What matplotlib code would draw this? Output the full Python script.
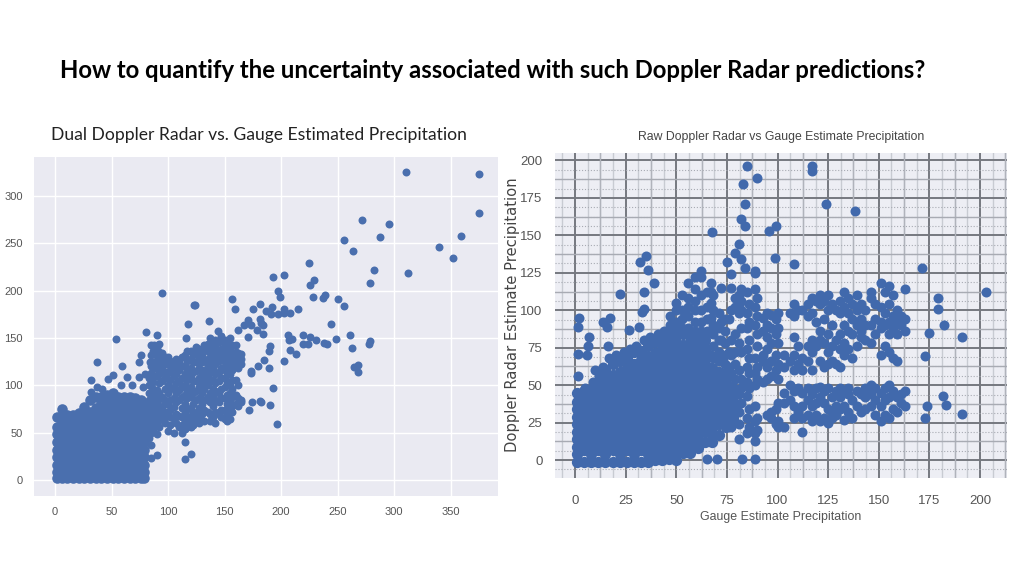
import matplotlib
matplotlib.use("Agg")
import matplotlib.pyplot as plt
from matplotlib.ticker import MultipleLocator

W, H = 1024, 576

title = "How to quantify the uncertainty associated with such Doppler Radar predictions?"
left_title = "Dual Doppler Radar vs. Gauge Estimated Precipitation"
right_title = "Raw Doppler Radar vs Gauge Estimate Precipitation"
right_xlabel = "Gauge Estimate Precipitation"
right_ylabel = "Doppler Radar Estimate Precipitation"

left_xticks = [0, 50, 100, 150, 200, 250, 300, 350]
left_yticks = [0, 50, 100, 150, 200, 250, 300]
right_xticks = [0, 25, 50, 75, 100, 125, 150, 175, 200]
right_yticks = [0, 25, 50, 75, 100, 125, 150, 175, 200]

# left panel, solid mass near the origin: x -> y values
left_core = {
    2: [2, 8, 16, 24, 32, 40, 48, 56, 66],
    6: [2, 4, 12, 20, 28, 36, 44, 52, 60, 68, 75],
    11: [2, 8, 16, 24, 32, 40, 48, 56, 64, 69],
    16: [2, 4, 12, 20, 28, 36, 44, 52, 60, 69],
    21: [2, 8, 16, 24, 32, 40, 48, 56, 64, 71],
    26: [2, 4, 12, 20, 28, 36, 44, 52, 60, 68, 77],
    31: [2, 8, 16, 24, 32, 40, 48, 56, 64, 72, 84],
    36: [2, 4, 12, 20, 28, 36, 44, 52, 60, 68, 76, 88],
    41: [2, 8, 16, 24, 32, 40, 48, 56, 64, 72, 80, 88],
    46: [2, 4, 12, 20, 28, 36, 44, 52, 60, 68, 76, 84, 90],
    51: [2, 8, 16, 24, 32, 40, 48, 56, 64, 72, 80, 88, 92],
    56: [2, 4, 12, 20, 28, 36, 44, 52, 60, 68, 76, 84, 88],
    61: [2, 8, 16, 24, 32, 40, 48, 56, 64, 72, 80, 88],
    66: [2, 4, 12, 20, 28, 36, 44, 52, 60, 68, 76, 84, 88],
    71: [2, 8, 16, 24, 32, 40, 48, 56, 64, 72, 80, 86],
    76: [2, 4, 12, 20, 28, 36, 44, 52, 60, 68, 76, 84],
    79: [2, 8, 16, 24, 32, 40, 48, 56, 64, 72, 80],
}

# left panel, loose cloud between x=85 and x=165
left_cloud = {
    85: [23, 37, 50, 57, 64, 71, 78, 85, 92, 99, 106, 113, 120, 132, 142],
    90: [26, 49, 60, 67, 74, 81, 88, 95, 110, 117, 124, 131, 139],
    95: [68, 75, 88, 104, 118, 126, 134],
    100: [52, 70, 80, 92, 100, 113, 122, 130],
    105: [50, 64, 77, 86, 98, 110, 122],
    110: [56, 68, 84, 95, 104, 116, 125],
    115: [22, 40, 54, 62, 72, 80, 90, 100, 112, 120, 132],
    120: [27, 56, 66, 75, 88, 98, 110, 118, 128, 136],
    125: [62, 70, 84, 94, 104, 115, 125, 135, 140],
    130: [70, 80, 92, 102, 112, 124, 132],
    135: [72, 84, 88, 100, 110, 120, 128, 138, 143],
    140: [66, 78, 88, 96, 106, 118, 128, 136, 145],
    145: [70, 82, 92, 104, 114, 126, 134, 146],
    150: [64, 74, 86, 98, 108, 116, 124, 132, 142, 148],
    155: [64, 76, 84, 92, 100, 112, 122, 130, 138, 150],
    160: [80, 90, 105, 122, 128, 135, 142],
    165: [82, 84, 122, 128, 133],
    83: [44, 52, 60, 68, 76, 84, 92, 100, 108],
    87: [54, 61, 68, 75, 82, 89, 96, 103, 110, 118, 125, 136],
    92: [56, 63, 71, 78, 85, 92, 102, 112, 120, 128, 135, 143],
    97: [60, 66, 72, 80, 84, 96, 108, 114, 122, 130],
    102: [58, 66, 74, 84, 96, 106, 116, 126],
    107: [60, 70, 82, 92, 102, 112, 118, 128],
    112: [50, 58, 66, 76, 88, 98, 108, 120, 130],
    117: [56, 60, 68, 76, 86, 94, 106, 116, 126, 136],
    122: [58, 62, 72, 80, 92, 104, 114, 124, 132],
    127: [60, 66, 76, 86, 98, 108, 118, 130, 138],
    132: [62, 74, 84, 96, 106, 116, 126, 136, 142],
    137: [62, 70, 82, 92, 104, 114, 124, 134, 142, 150],
    142: [60, 72, 84, 94, 102, 112, 122, 132, 140, 148],
    147: [66, 74, 86, 96, 108, 118, 128, 138, 148, 152],
    152: [62, 70, 80, 90, 102, 112, 120, 128, 136, 146],
    157: [72, 78, 88, 96, 106, 116, 126, 134, 142],
    162: [78, 86, 100, 118, 126, 134],
}

# left panel, separate points
left_x = [311, 375, 375, 272, 295.5, 256, 288, 359, 340, 264, 352, 225, 312, 282, 279,
          193, 203, 229, 226, 197, 199, 228.5, 237, 239, 250, 256, 94.5, 157, 159, 123,
          124, 175, 181, 192, 187, 191, 197, 203, 203, 208, 215, 244, 136, 117.5, 171,
          181, 182, 184, 167, 173, 162, 179, 184, 171, 144, 80.5, 90, 54, 116, 206,
          207, 210, 219, 226, 231, 238, 241, 249, 261, 219, 223.5, 279, 278, 263, 208,
          213, 202.5, 190, 189.5, 185, 180, 189, 173, 173, 265, 268, 268, 193, 174, 172,
          181, 182, 190, 196, 37, 59, 32, 37.5, 31.5, 47, 51, 64, 74,
          42, 58, 68, 78, 80, 74, 76, 84, 88]
left_y = [325, 323, 282, 274, 270, 253, 257, 258, 246, 242, 234.5, 229, 218, 221.5, 208,
          214, 216, 211, 206, 199, 193, 193, 192, 195, 191.5, 184, 197, 191.5, 180, 185,
          185, 181, 186, 183, 178, 175, 175, 180, 176, 176, 181, 165, 168, 165, 169,
          170, 166, 164, 164, 164, 158, 158, 154, 151, 157, 156, 153, 148.5, 149.5, 153,
          148, 149, 153, 151, 148, 145, 143, 148.5, 153, 144, 144, 147, 143, 139, 137,
          133, 126, 141, 136, 127, 120, 118, 115, 113, 119, 121.5, 114, 97, 82, 74,
          83, 82, 79, 59.5, 125, 120, 105, 98, 93, 107, 111, 109, 109,
          96, 100, 100, 98, 112, 125, 132, 125, 142]

# right panel, solid mass near the origin: x -> y values
right_core = {
    1: [-1, 4, 9, 14, 19, 24, 29, 34, 39, 45],
    4.5: [-1, 6.5, 11.5, 16.5, 21.5, 26.5, 31.5, 36.5, 41.5, 46],
    8: [-1, 4, 9, 14, 19, 24, 29, 34, 39, 44, 47],
    11.5: [-1, 6.5, 11.5, 16.5, 21.5, 26.5, 31.5, 36.5, 41.5, 46.5, 52],
    15: [-1, 4, 9, 14, 19, 24, 29, 34, 39, 44, 49, 54, 60],
    18.5: [-1, 6.5, 11.5, 16.5, 21.5, 26.5, 31.5, 36.5, 41.5, 46.5, 51.5, 56.5, 64],
    22: [-1, 4, 9, 14, 19, 24, 29, 34, 39, 44, 49, 54, 59, 66],
    25.5: [-1, 6.5, 11.5, 16.5, 21.5, 26.5, 31.5, 36.5, 41.5, 46.5, 51.5, 56.5, 61.5, 68],
    29: [-1, 4, 9, 14, 19, 24, 29, 34, 39, 44, 49, 54, 59, 64, 72],
    32.5: [-1, 6.5, 11.5, 16.5, 21.5, 26.5, 31.5, 36.5, 41.5, 46.5, 51.5, 56.5, 61.5, 66.5, 73],
    36: [-1, 4, 9, 14, 19, 24, 29, 34, 39, 44, 49, 54, 59, 64, 69, 76],
    39.5: [0, 6.5, 11.5, 16.5, 21.5, 26.5, 31.5, 36.5, 41.5, 46.5, 51.5, 56.5, 61.5, 66.5, 71.5, 79],
    43: [0, 4, 9, 14, 19, 24, 29, 34, 39, 44, 49, 54, 59, 64, 69, 74, 80],
    46.5: [1, 6.5, 11.5, 16.5, 21.5, 26.5, 31.5, 36.5, 41.5, 46.5, 51.5, 56.5, 61.5, 66.5, 71.5, 76.5, 82],
    50: [0, 4, 9, 14, 19, 24, 29, 34, 39, 44, 49, 54, 59, 64, 69, 74, 79, 84],
    53.5: [5, 11.5, 16.5, 21.5, 26.5, 31.5, 36.5, 41.5, 46.5, 51.5, 56.5, 61.5, 66.5, 71.5, 76.5, 84],
    57: [5, 9, 14, 19, 24, 29, 34, 39, 44, 49, 54, 59, 64, 69, 74, 79, 85],
    60.5: [8, 11.5, 16.5, 21.5, 26.5, 31.5, 36.5, 41.5, 46.5, 51.5, 56.5, 61.5, 66.5, 71.5, 76.5, 82],
    64: [12, 19, 24, 29, 34, 39, 44, 49, 54, 59, 64, 69, 74, 80],
    67.5: [12, 16.5, 21.5, 26.5, 31.5, 36.5, 41.5, 46.5, 51.5, 56.5, 61.5],
    71: [17, 24, 29, 34, 39, 44, 49, 54, 59],
    74.5: [22, 26.5, 31.5, 36.5, 41.5, 46.5, 51.5],
    78: [28, 34, 39, 44, 48],
}

# right panel, loose cloud right of the mass
right_cloud = {
    67: [70, 85, 95, 105, 112, 118],
    72: [68, 80, 92, 115],
    77: [22, 30, 38, 46, 58, 70, 80, 100, 115, 124],
    81: [14, 24, 32, 44, 60, 78, 98, 104, 110],
    85: [18, 28, 43, 52, 62, 74, 88, 98, 112],
    89: [13, 18, 26, 36, 50, 58, 68, 90, 102, 114],
    93: [52, 66, 70, 86, 95],
    97: [28, 32, 56, 66, 78, 88, 97],
    100: [22, 26, 38, 54, 64, 78, 88, 98],
    103: [22, 45, 38, 62, 70],
    108: [28, 36, 46, 60, 70, 82, 96, 104],
    112: [19, 28, 36, 45, 60, 68, 100],
    117: [26, 36, 44, 60, 72, 80, 98, 108],
    121: [26, 42, 49, 66, 80, 86, 104, 110],
    125: [25, 34, 48, 64, 72, 84, 100, 110],
    129: [30, 36, 46, 64, 80, 100],
    133: [27, 36, 46, 70, 78, 90, 102, 112],
    137: [28, 40, 68, 84, 94, 104],
    141: [32, 44, 82, 86, 94, 104],
    146: [36, 44, 50, 78, 90, 108, 112],
    151: [26, 36, 45, 70, 88, 92, 102, 118],
    155: [28, 42, 50, 72, 84, 92, 104, 116],
    159: [32, 42, 66, 84, 92, 100],
    163: [36, 46, 86, 94, 114],
    5: [48], 9: [52], 12: [56], 14: [62], 17: [68], 20: [70], 24: [72], 27: [74],
    30: [76], 34: [80], 37: [82], 41: [84],
    44: [84, 86],
    47: [88, 90, 96],
    50: [88, 92, 100, 105],
    53: [88, 94, 100, 110],
    56: [88, 96, 102, 108, 118],
    59: [86, 92, 100, 106, 114, 122],
    62: [86, 92, 100, 110, 122, 126],
    65: [86, 94, 102, 112],
    68: [68, 76, 84, 90, 100, 110],
    71: [66, 72, 80, 88, 98],
    74: [58, 64, 70, 78, 86, 94],
    76: [56, 62, 72, 94],
    79: [34, 38, 54, 64, 72, 84, 102, 108],
    82: [38, 48, 54, 72, 88, 100, 106, 114],
    86: [22, 34, 48, 58, 68, 80, 92, 104],
    90: [20, 28, 54, 62, 76, 84, 96, 108],
    95: [30, 54, 62, 74, 82, 90, 98],
    99: [24, 34, 60, 70, 84, 94],
    106: [40, 50, 66, 98],
    110: [32, 48, 64, 76, 100],
    115: [30, 40, 48, 66, 76, 96, 104],
    119: [30, 38, 48, 76, 92, 106],
    123: [28, 38, 46, 62, 78, 94, 106],
    127: [28, 32, 42, 66, 76, 90, 104],
    131: [34, 42, 48, 62, 74, 84, 98, 106],
    135: [32, 44, 48, 74, 86, 98, 108],
    139: [36, 46, 76, 90, 100, 110],
    143: [34, 42, 48, 80, 90, 100],
    148: [30, 40, 48, 84, 94, 104],
    153: [30, 40, 48, 76, 90, 98, 112],
    157: [34, 46, 68, 88, 96, 110],
    161: [38, 44, 90, 96],
}

# right panel, points above the mass and isolated ones
right_x = [85, 117, 117, 90, 83, 124, 138, 84, 82, 84, 67.7, 96, 99, 81, 79, 98.5, 108, 75,
           82, 84, 89, 89, 35, 32, 36, 39, 34, 22, 171.5, 203, 179, 179, 182, 175, 191,
           173, 181.5, 183, 174, 173, 191, 2, 1.5, 7, 6.5, 6, 1.5, 17.5, 14, 16, 26.7,
           31.6, 33, 34, 16.5, 1.5, 10, 65, 70, 82.6, 89]
right_y = [196, 196, 193, 188, 184, 171, 166, 171, 161, 156, 152.5, 153, 156, 144, 138, 135,
           131, 132, 134, 128, 126, 125, 136, 132, 127, 118, 112, 111, 128, 112, 108, 101,
           90, 85, 82, 69.5, 43, 37, 36, 28, 31, 95, 89, 82, 76, 70, 71, 95, 92, 89, 87,
           89, 99, 101, 76, 56, 60, 0.5, 1, 0.5, 0.5]


def flatten(columns):
    xs, ys = [], []
    for x, values in columns.items():
        xs += [x] * len(values)
        ys += values
    return xs, ys


def px_axes(x0, y0, x1, y1):
    return fig.add_axes([x0 / W, 1 - y1 / H, (x1 - x0) / W, (y1 - y0) / H])


def px_text(x, y, s, **kw):
    fig.text(x / W, 1 - y / H, s, va="center", **kw)


fig = plt.figure(figsize=(W / 100, H / 100), dpi=100)

px_text(60, 71, title, family="Lato", weight="bold", fontsize=17.16, color="black")
px_text(51, 135, left_title, family="Lato", fontsize=12.6, color="#222222")
px_text(638, 137, right_title, family="Liberation Sans", fontsize=8.8, color="#444444")
px_text(700, 517, right_xlabel, family="Liberation Sans", fontsize=8.9, color="#555555")
px_text(513, 315, right_ylabel, family="DejaVu Sans", fontsize=10.6, color="#444444",
        rotation=90, ha="center")

# left: seaborn look
ax = px_axes(34, 157, 498, 496)
ax.set_facecolor("#EAEAF2")
ax.grid(color="white", lw=1)
ax.set_axisbelow(True)
for s in ax.spines.values():
    s.set_visible(False)
xs, ys = flatten(left_core)
ax.scatter(xs, ys, s=58, color="#4A6FAE", linewidths=0)
xs, ys = flatten(left_cloud)
ax.scatter(xs, ys, s=33, color="#4A6FAE", linewidths=0)
ax.scatter(left_x, left_y, s=33, color="#4A6FAE", linewidths=0)
ax.set_xlim(-18.6, 392)
ax.set_ylim(-17, 341)
ax.set_xticks(left_xticks)
ax.set_yticks(left_yticks)
ax.tick_params(length=0, labelsize=8, labelcolor="#555555", pad=8)
for t in ax.get_xticklabels() + ax.get_yticklabels():
    t.set_family("Liberation Sans")

# right: heavy major/minor grid
ax2 = px_axes(555, 153, 1007, 478)
ax2.set_facecolor("#EDEEF4")
ax2.set_xlim(-9.9, 213.3)
ax2.set_ylim(-12, 205)
ax2.set_xticks(right_xticks)
ax2.set_yticks(right_yticks)
ax2.xaxis.set_minor_locator(MultipleLocator(6.25))
ax2.yaxis.set_minor_locator(MultipleLocator(6.25))
ax2.grid(which="major", color="#75787F", lw=1.4)
ax2.grid(which="minor", axis="x", color="#C8CBD2", lw=1)
ax2.grid(which="minor", axis="y", color="#A8ABB3", lw=0.8, ls=":")
for v in [12.5, 37.5, 62.5, 87.5, 112.5, 137.5, 162.5, 187.5, 212.5]:
    ax2.axvline(v, color="#B0B3BB", lw=1, zorder=0.6)
for v in [12.5, 37.5, 62.5, 87.5, 112.5, 137.5, 162.5, 187.5]:
    ax2.axhline(v, color="#A8ABB3", lw=1, zorder=0.6)
ax2.set_axisbelow(True)
for s in ax2.spines.values():
    s.set_visible(False)
xs, ys = flatten(right_core)
ax2.scatter(xs, ys, s=66, color="#4169AC", linewidths=0)
xs, ys = flatten(right_cloud)
ax2.scatter(xs, ys, s=52, color="#4169AC", linewidths=0)
ax2.scatter(right_x, right_y, s=52, color="#4169AC", linewidths=0)
ax2.tick_params(which="both", length=0, labelsize=9.5, labelcolor="#555555", pad=12)
ax2.tick_params(axis="y", which="both", pad=9)
for t in ax2.get_xticklabels() + ax2.get_yticklabels():
    t.set_family("Liberation Sans")

fig.savefig("out.png", dpi=100)
